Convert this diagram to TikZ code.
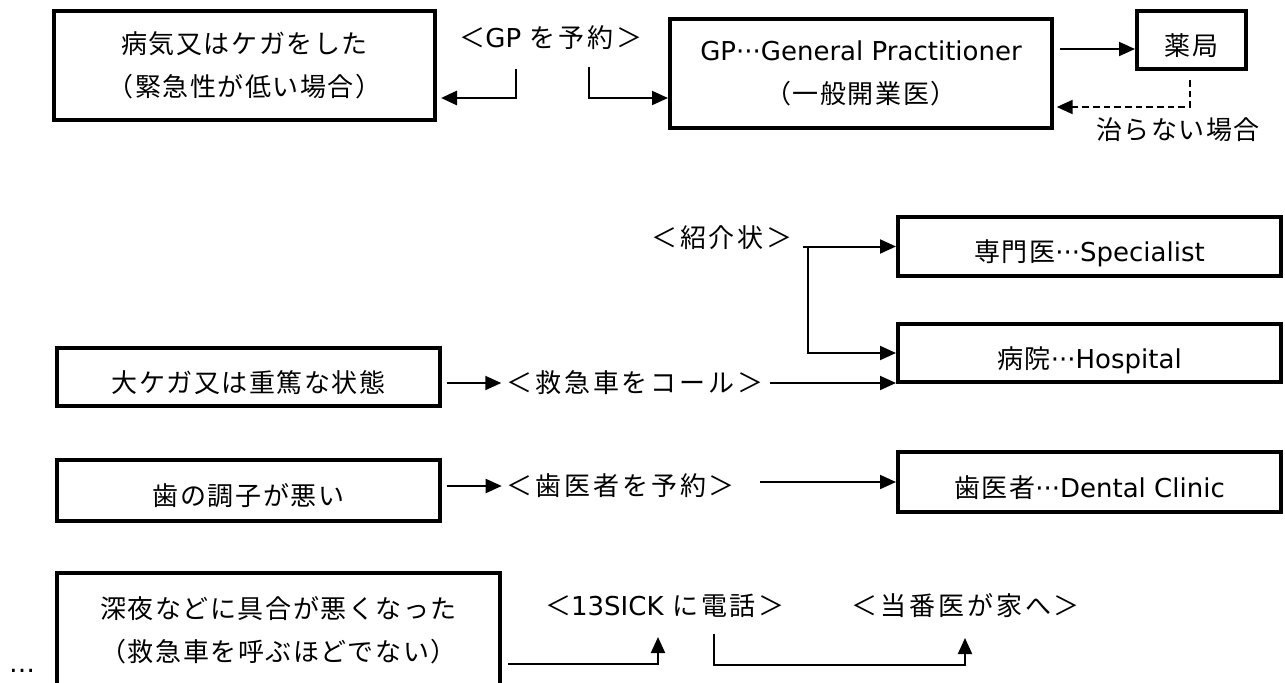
\documentclass[tikz,border=0pt]{standalone}
\usepackage{fontspec}
\setmainfont{Noto Sans CJK JP}[LetterSpace=6]
\newfontfamily\lblfont{Noto Sans CJK JP}[LetterSpace=11]
\newfontfamily\latfont{DejaVu Sans}
\newcommand{\lat}[1]{{\latfont\fontsize{19.5}{32}\selectfont #1}}
\usetikzlibrary{arrows.meta}

\begin{document}
\begin{tikzpicture}[x=0.75pt,y=0.75pt,yscale=-1,xscale=1,
  box/.style={draw, line width=3pt, inner sep=0pt, align=center, font=\fontsize{19.5}{32}\selectfont},
  onebox/.style={box, text height=23pt, text depth=0pt},
  lbl/.style={inner sep=0.75pt, font=\lblfont\fontsize{19.5}{22}\selectfont},
  conn/.style={line width=1.5pt, -{Triangle[length=12pt,width=10.5pt]}}]
\useasboundingbox (0,0) rectangle (1285,682);

%Shape: Rectangle
\draw (244.5,65.5) node (ill) [box, minimum width=285.75pt, minimum height=81.75pt] {病気又はケガをした\\（緊急性が低い場合）};
%Shape: Rectangle
\draw (861,73.5) node (gp) [box, minimum width=286.5pt, minimum height=81.75pt] {\lat{GP···General Practitioner}\\（一般開業医）};
%Shape: Rectangle
\draw (1191.5,40) node (pharm) [onebox, minimum width=81.75pt, minimum height=43.5pt] {薬局};
%Shape: Rectangle
\draw (1089.5,246.5) node (spec) [onebox, minimum width=287.25pt, minimum height=44.25pt] {専門医\lat{···Specialist}};
%Shape: Rectangle
\draw (1089.5,353) node (hosp) [onebox, minimum width=287.25pt, minimum height=43.5pt] {病院\lat{···Hospital}};
%Shape: Rectangle
\draw (1089.5,482) node (dent) [onebox, minimum width=287.25pt, minimum height=45pt] {歯医者\lat{···Dental Clinic}};
%Shape: Rectangle
\draw (248.5,377) node (injury) [onebox, minimum width=287.25pt, minimum height=43.5pt] {大ケガ又は重篤な状態};
%Shape: Rectangle
\draw (248.5,490.5) node (tooth) [onebox, minimum width=287.25pt, minimum height=45.75pt] {歯の調子が悪い};
%Shape: Rectangle
\draw (278.5,630.5) node (night) [box, minimum width=332.25pt, minimum height=86.25pt] {深夜などに具合が悪くなった\\（救急車を呼ぶほどでない）};

% Text Node
\draw (551,38) node (book) [lbl] {＜\lat{GP} を予約＞};
% Text Node
\draw (1178,130) node (notcured) [inner sep=0.75pt, font=\fontsize{19.5}{22}\selectfont] {治らない場合};
% Text Node
\draw (722,238) node (letter) [lbl] {＜紹介状＞};
% Text Node
\draw (635,383) node (amb) [lbl] {＜救急車をコール＞};
% Text Node
\draw (621,486) node (dapp) [lbl] {＜歯医者を予約＞};
% Text Node
\draw (665,606) node (call) [lbl] {＜\lat{13SICK} に電話＞};
% Text Node
\draw (966,606) node (home) [lbl] {＜当番医が家へ＞};
% Text Node
\draw (22,671) node (more) [inner sep=0pt] {\lat{…}};

%Straight Lines
\coordinate (bookL) at (516,69);
\draw [conn, line width=2.2pt, shorten >=3pt] (bookL) |- (ill.east |- 0,98);
%Straight Lines
\coordinate (bookR) at (589,67);
\draw [conn] (bookR) |- (gp.west |- 0,98);
%Straight Lines
\draw [conn, shorten <=4.5pt] (gp.east |- 0,49) -- (pharm.west |- 0,49);
%Straight Lines
\coordinate (pharmB) at (1190,80);
\draw [conn, dash pattern=on 5pt off 3pt, shorten >=2pt] (pharmB) |- (gp.east |- 0,107);
%Straight Lines
\coordinate (letterR) at (803,246.5);
\draw [conn] (letterR) -- (spec.west);
\coordinate (letterV) at (808,246.5);
\draw [conn] (letterV) |- (hosp.west);
%Straight Lines
\draw [conn, shorten <=4pt, shorten >=3pt] (injury.east |- amb.west) -- (amb.west);
\draw [conn, shorten <=4pt] (amb.east) -- (amb.east -| hosp.south west);
%Straight Lines
\draw [conn, shorten <=4pt, shorten >=3pt] (tooth.east |- dapp.west) -- (dapp.west);
\coordinate (dappR) at (760,482);
\draw [conn] (dappR) -- (dent.west);
%Straight Lines
\coordinate (callB) at (658,637);
\draw [conn, shorten <=4.5pt] (night.east |- 0,664) -| (callB);
\coordinate (callR) at (714,634);
\coordinate (homeB) at (965,638);
\draw [conn] (callR) -- (callR |- 0,665) -| (homeB);

\end{tikzpicture}
\end{document}
